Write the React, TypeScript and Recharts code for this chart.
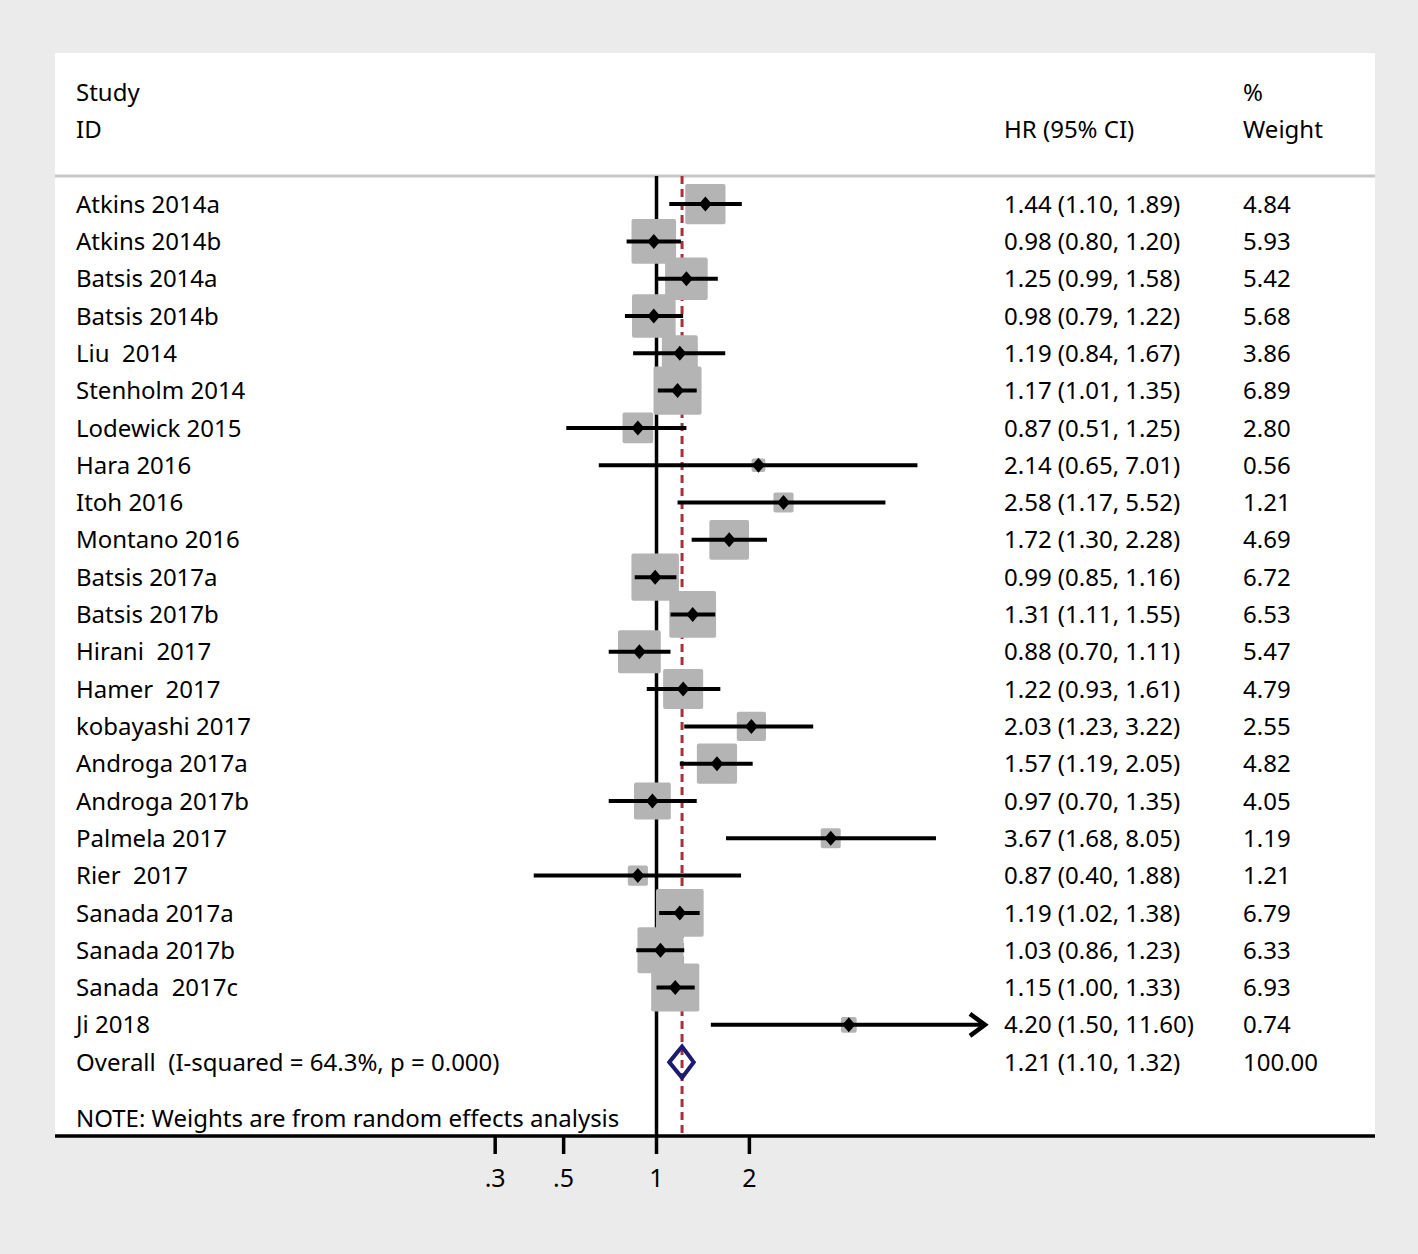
import { ComposedChart, Scatter, XAxis, YAxis, ReferenceLine, ErrorBar, CartesianGrid } from 'recharts';

const W = 1418;
const H = 1254;
const FONT = '"Noto Sans", "Open Sans", sans-serif';
const FS = 24;

// study rows, top to bottom
const studies = [
  'Atkins 2014a', 'Atkins 2014b', 'Batsis 2014a', 'Batsis 2014b', 'Liu  2014',
  'Stenholm 2014', 'Lodewick 2015', 'Hara 2016', 'Itoh 2016', 'Montano 2016',
  'Batsis 2017a', 'Batsis 2017b', 'Hirani  2017', 'Hamer  2017', 'kobayashi 2017',
  'Androga 2017a', 'Androga 2017b', 'Palmela 2017', 'Rier  2017', 'Sanada 2017a',
  'Sanada 2017b', 'Sanada  2017c', 'Ji 2018',
];
const hr = [1.44, 0.98, 1.25, 0.98, 1.19, 1.17, 0.87, 2.14, 2.58, 1.72, 0.99, 1.31, 0.88, 1.22, 2.03, 1.57, 0.97, 3.67, 0.87, 1.19, 1.03, 1.15, 4.2];
const ciLow = [1.1, 0.8, 0.99, 0.79, 0.84, 1.01, 0.51, 0.65, 1.17, 1.3, 0.85, 1.11, 0.7, 0.93, 1.23, 1.19, 0.7, 1.68, 0.4, 1.02, 0.86, 1.0, 1.5];
const ciHigh = [1.89, 1.2, 1.58, 1.22, 1.67, 1.35, 1.25, 7.01, 5.52, 2.28, 1.16, 1.55, 1.11, 1.61, 3.22, 2.05, 1.35, 8.05, 1.88, 1.38, 1.23, 1.33, 11.6];
const weights = [4.84, 5.93, 5.42, 5.68, 3.86, 6.89, 2.8, 0.56, 1.21, 4.69, 6.72, 6.53, 5.47, 4.79, 2.55, 4.82, 4.05, 1.19, 1.21, 6.79, 6.33, 6.93, 0.74];
const arrowStudies = ['Ji 2018'];

const overallLabel = 'Overall  (I-squared = 64.3%, p = 0.000)';
const overallHr = 1.21;
const overallLow = 1.1;
const overallHigh = 1.32;
const overallWeight = 100.0;

const headerLeft = ['Study', 'ID'];
const headerCi = 'HR (95% CI)';
const headerWeight = ['%', 'Weight'];
const noteText = 'NOTE: Weights are from random effects analysis';

const xTicks = [0.3, 0.5, 1, 2];
const xTickLabels = ['.3', '.5', '1', '2'];

// axis ranges (log scale on x, row index on y)
const X_MIN = -4.489;
const X_MAX = 5.362;
const Y_MIN = -4.05;
const Y_MAX = 24.98;
const HEADER_LINE = -0.75;
const overallRow = studies.length;
const noteRow = overallRow + 1.5;

const fmt = (v: number) => v.toFixed(2);
const ciText = (h: number, l: number, u: number) => `${fmt(h)} (${fmt(l)}, ${fmt(u)})`;

const rows = studies.map((s, i) => {
  const x = Math.log(hr[i]);
  return {
    y: i,
    x,
    w: weights[i],
    err: [x - Math.log(ciLow[i]), Math.log(ciHigh[i]) - x],
  };
});

const arrows = studies
  .map((s, i) => ({ s, i }))
  .filter((d) => arrowStudies.includes(d.s))
  .map((d) => ({ x: Math.log(ciHigh[d.i]), y: d.i }));

const ox = Math.log(overallHr);
const diamond = [
  { x: Math.log(overallLow), y: overallRow },
  { x: ox, y: overallRow - 0.42 },
  { x: Math.log(overallHigh), y: overallRow },
  { x: ox, y: overallRow + 0.42 },
  { x: Math.log(overallLow), y: overallRow },
  { x: ox, y: overallRow - 0.42 },
];

const leftTicks = [-3, -2, ...studies.map((s, i) => i), overallRow, noteRow];
const rightTicks = [-3, -2, ...studies.map((s, i) => i), overallRow];

function leftLabel(v: number): string {
  if (v === -3) return headerLeft[0];
  if (v === -2) return headerLeft[1];
  if (v === overallRow) return overallLabel;
  if (v === noteRow) return noteText;
  return studies[v] ?? '';
}

const textStyle = { whiteSpace: 'pre' as const };

const LeftTick = (props: any) => {
  const { x, y, payload } = props;
  return (
    <text x={x + 21} y={y} dy="0.36em" fontSize={FS} fontFamily={FONT} fill="#000" textAnchor="start" style={textStyle}>
      {leftLabel(payload.value)}
    </text>
  );
};

const RightTick = (props: any) => {
  const { x, y, payload } = props;
  const v = payload.value;
  let ci = '';
  let wt = '';
  if (v === -3) wt = headerWeight[0];
  else if (v === -2) {
    ci = headerCi;
    wt = headerWeight[1];
  } else if (v === overallRow) {
    ci = ciText(overallHr, overallLow, overallHigh);
    wt = fmt(overallWeight);
  } else {
    ci = ciText(hr[v], ciLow[v], ciHigh[v]);
    wt = fmt(weights[v]);
  }
  return (
    <g>
      <text x={x - 371} y={y} dy="0.36em" fontSize={FS} fontFamily={FONT} fill="#000" textAnchor="start" style={textStyle}>
        {ci}
      </text>
      <text x={x - 132} y={y} dy="0.36em" fontSize={FS} fontFamily={FONT} fill="#000" textAnchor="start" style={textStyle}>
        {wt}
      </text>
    </g>
  );
};

const XTick = (props: any) => {
  const { x, y, payload } = props;
  return (
    <text x={x} y={y} dy="0.72em" fontSize={25} fontFamily={FONT} fill="#000" textAnchor="middle">
      {xLabel(payload.value)}
    </text>
  );
};

const BoxShape = (props: any) => {
  const { cx, cy, payload } = props;
  const s = 18.3 * Math.sqrt(payload.w);
  return <rect x={cx - s / 2} y={cy - s / 2} width={s} height={s} rx={2} fill="#B4B4B4" />;
};

const PointShape = (props: any) => {
  const { cx, cy } = props;
  return <polygon points={`${cx - 6.5},${cy} ${cx},${cy - 7.5} ${cx + 6.5},${cy} ${cx},${cy + 7.5}`} fill="#000" />;
};

const ArrowShape = (props: any) => {
  const { cx, cy } = props;
  return (
    <polyline
      points={`${cx - 15},${cy - 11} ${cx},${cy} ${cx - 15},${cy + 11}`}
      fill="none"
      stroke="#000"
      strokeWidth={4.5}
    />
  );
};

const NoShape = () => <g />;

function xLabel(v: number): string {
  const k = xTicks.findIndex((t) => Math.abs(Math.log(t) - v) < 1e-9);
  return k >= 0 ? xTickLabels[k] : '';
}

export default function App() {
  return (
    <div style={{ position: 'absolute', left: 0, top: 0, width: W, height: H, background: '#EBEBEB' }}>
      <ComposedChart width={W} height={H} margin={{ top: 53, right: 42, bottom: 58, left: 54 }}>
        <CartesianGrid yAxisId="left" horizontal={false} vertical={false} fill="#fff" />
        <XAxis
          type="number"
          dataKey="x"
          domain={[X_MIN, X_MAX]}
          allowDataOverflow
          ticks={xTicks.map((t) => Math.log(t))}
          interval={0}
          axisLine={{ stroke: '#000', strokeWidth: 3.5 }}
          tickLine={{ stroke: '#000', strokeWidth: 3.5 }}
          tickSize={18}
          tickMargin={15}
          height={60}
          tick={XTick}
        />
        <YAxis
          yAxisId="left"
          type="number"
          dataKey="y"
          orientation="left"
          domain={[Y_MIN, Y_MAX]}
          allowDataOverflow
          reversed
          ticks={leftTicks}
          interval={0}
          width={1}
          tickSize={0}
          tickMargin={0}
          axisLine={false}
          tickLine={false}
          tick={LeftTick}
        />
        <YAxis
          yAxisId="right"
          type="number"
          dataKey="y"
          orientation="right"
          domain={[Y_MIN, Y_MAX]}
          allowDataOverflow
          reversed
          ticks={rightTicks}
          interval={0}
          width={1}
          tickSize={0}
          tickMargin={0}
          axisLine={false}
          tickLine={false}
          tick={RightTick}
        />
        <ReferenceLine yAxisId="left" y={HEADER_LINE} stroke="#C8C8C8" strokeWidth={3} zIndex={100} />
        <ReferenceLine
          yAxisId="left"
          segment={[{ x: 0, y: HEADER_LINE }, { x: 0, y: Y_MAX }]}
          stroke="#000"
          strokeWidth={3.5}
          zIndex={100}
        />
        <ReferenceLine
          yAxisId="left"
          segment={[{ x: ox, y: HEADER_LINE }, { x: ox, y: Y_MAX }]}
          stroke="#A3323C"
          strokeWidth={3}
          strokeDasharray="8 5"
          zIndex={100}
        />
        <Scatter yAxisId="left" data={rows} shape={BoxShape} isAnimationActive={false} zIndex={200} />
        <Scatter yAxisId="left" data={rows} shape={PointShape} isAnimationActive={false} zIndex={300}>
          <ErrorBar dataKey="err" direction="x" width={0} stroke="#000" strokeWidth={4} zIndex={300} />
        </Scatter>
        <Scatter yAxisId="left" data={arrows} shape={ArrowShape} isAnimationActive={false} zIndex={300} />
        <Scatter
          yAxisId="left"
          data={diamond}
          shape={NoShape}
          fill="#1B1B70"
          line={{ stroke: '#1B1B70', strokeWidth: 4 }}
          isAnimationActive={false}
          zIndex={350}
        />
      </ComposedChart>
    </div>
  );
}
